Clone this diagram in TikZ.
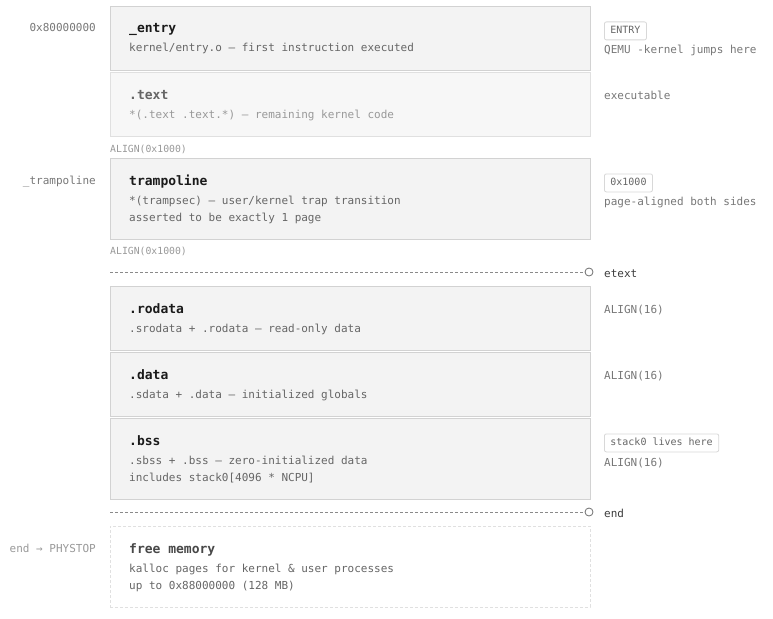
\documentclass[tikz,border=0pt]{standalone}
\usepackage{fontspec}
\setmainfont{DejaVu Sans Mono}
\setmonofont{DejaVu Sans Mono}
\definecolor{boxfill}{HTML}{F3F3F3}
\definecolor{boxline}{HTML}{D2D2D2}
\definecolor{fadefill}{HTML}{F7F7F7}
\definecolor{fadeline}{HTML}{E0E0E0}
\definecolor{titlec}{HTML}{1A1A1A}
\definecolor{subc}{HTML}{666666}
\definecolor{sidec}{HTML}{777777}
\definecolor{faintc}{HTML}{999999}
\definecolor{tagline}{HTML}{D8D8D8}
\definecolor{dashc}{HTML}{8A8A8A}
\begin{document}
\begin{tikzpicture}[x=1pt,y=-1pt,
  secbox/.style={draw=boxline,fill=boxfill,line width=0.9pt,minimum width=480pt,inner sep=0pt},
  fadebox/.style={draw=fadeline,fill=fadefill,line width=0.9pt,minimum width=480pt,inner sep=0pt},
  freebox/.style={draw=fadeline,fill=white,line width=0.9pt,dash pattern=on 3pt off 2pt,minimum width=480pt,inner sep=0pt},
  ttl/.style={anchor=base west,inner sep=0pt,text=titlec,font=\fontsize{13}{15}\selectfont\bfseries},
  sub/.style={anchor=base west,inner sep=0pt,text=subc,font=\fontsize{11}{13}\selectfont},
  side/.style={anchor=base west,inner sep=0pt,text=sidec,font=\fontsize{11}{13}\selectfont},
  lside/.style={anchor=base east,inner sep=0pt,text=sidec,font=\fontsize{11}{13}\selectfont},
  aln/.style={anchor=base west,inner sep=0pt,text=faintc,font=\fontsize{9.8}{12}\selectfont},
  tag/.style={anchor=north west,draw=tagline,fill=white,rounded corners=2pt,line width=0.8pt,text=subc,
    font=\fontsize{10}{12}\selectfont,inner xsep=6pt,minimum height=18pt,inner ysep=0pt,text height=7.5pt,text depth=2pt},
  marklbl/.style={anchor=base west,inner sep=0pt,text=titlec!85,font=\fontsize{11}{13}\selectfont},
  dotc/.style={circle,draw=dashc!80!black,fill=white,line width=0.8pt,minimum size=8pt,inner sep=0pt},
  dline/.style={draw=dashc,line width=0.7pt,dash pattern=on 3pt off 2pt}]
\useasboundingbox (0,0) rectangle (773,618);

% left addresses
\node[lside] (a1) at (96,32) {0x80000000};
\node[lside] (a2) at (96,184) {\_trampoline};
\node[lside,text=faintc] (a3) at (96,552) {end → PHYSTOP};

% _entry
\node[secbox,minimum height=64pt] (entry) at (350,38) {};
\node[ttl] (entryT) at (129,33) {\_entry};
\node[sub] (entryS) at (129,52) {kernel/entry.o — first instruction executed};

% .text
\node[fadebox,minimum height=64pt] (text) at (350,104) {};
\node[ttl,text=subc] (textT) at (129,99) {.text};
\node[sub,text=faintc] (textS) at (129,118) {*(.text .text.*) — remaining kernel code};

\node[aln] (al1) at (110,152) {ALIGN(0x1000)};

% trampoline
\node[secbox,minimum height=81pt] (tramp) at (350,198.5) {};
\node[ttl] (trampT) at (129,185) {trampoline};
\node[sub] (trampS1) at (129,204) {*(trampsec) — user/kernel trap transition};
\node[sub] (trampS2) at (129,221) {asserted to be exactly 1 page};

\node[aln] (al2) at (110,254) {ALIGN(0x1000)};

% etext marker
\coordinate (etextL) at (110,272);
\node[dotc] (etextD) at (589,272) {};
\draw[dline] (etextL) -- (etextD);
\node[marklbl] (etextN) at (604,277) {etext};

% .rodata
\node[secbox,minimum height=64pt] (rodata) at (350,318) {};
\node[ttl] (rodataT) at (129,313) {.rodata};
\node[sub] (rodataS) at (129,332) {.srodata + .rodata — read-only data};

% .data
\node[secbox,minimum height=64pt] (data) at (350,384) {};
\node[ttl] (dataT) at (129,379) {.data};
\node[sub] (dataS) at (129,398) {.sdata + .data — initialized globals};

% .bss
\node[secbox,minimum height=81pt] (bss) at (350,458.5) {};
\node[ttl] (bssT) at (129,445) {.bss};
\node[sub] (bssS1) at (129,464) {.sbss + .bss — zero-initialized data};
\node[sub] (bssS2) at (129,481) {includes stack0[4096 * NCPU]};

% end marker
\coordinate (endL) at (110,512);
\node[dotc] (endD) at (589,512) {};
\draw[dline] (endL) -- (endD);
\node[marklbl] (endN) at (604,517) {end};

% free memory
\node[freebox,minimum height=81pt] (free) at (350,566.5) {};
\node[ttl,text=titlec!80] (freeT) at (129,553) {free memory};
\node[sub] (freeS1) at (129,572) {kalloc pages for kernel \& user processes};
\node[sub] (freeS2) at (129,589) {up to 0x88000000 (128 MB)};

% right notes
\node[tag] (tagEntry) at (604,21.5) {ENTRY};
\node[side] (nEntry) at (604,53) {QEMU -kernel jumps here};
\node[side] (nText) at (604,99) {executable};
\node[tag] (tagPage) at (604,173.5) {0x1000};
\node[side] (nTramp) at (604,205) {page-aligned both sides};
\node[side] (nRo) at (604,313) {ALIGN(16)};
\node[side] (nData) at (604,379) {ALIGN(16)};
\node[tag] (tagStack) at (604,433.5) {stack0 lives here};
\node[side] (nBss) at (604,466) {ALIGN(16)};
\end{tikzpicture}
\end{document}
